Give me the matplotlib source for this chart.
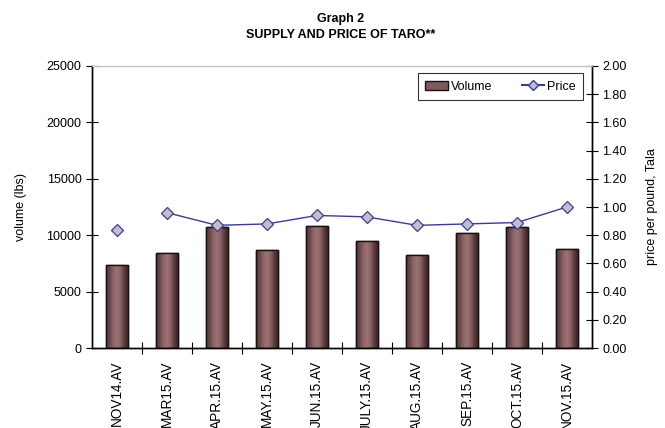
import numpy as np
import matplotlib
matplotlib.use("Agg")
import matplotlib.pyplot as plt
from matplotlib.colors import LinearSegmentedColormap
from matplotlib.ticker import FormatStrFormatter, FixedLocator
from matplotlib.lines import Line2D
from matplotlib.patches import Patch

plt.rcParams['font.family'] = ['Liberation Sans', 'DejaVu Sans']

months = ["NOV14.AV", "MAR15.AV", "APR.15.AV", "MAY.15.AV", "JUN.15.AV",
          "JULY.15.AV", "AUG.15.AV", "SEP.15.AV", "OCT.15.AV", "NOV.15.AV"]
volume = [7350, 8460, 10690, 8680, 10780, 9480, 8230, 10190, 10690, 8770]
price = [0.84, 0.96, 0.87, 0.88, 0.94, 0.93, 0.87, 0.88, 0.89, 1.00]

x = np.arange(len(months))

fig = plt.figure(figsize=(6.65, 4.28), dpi=100)
ax = fig.add_axes([0.1383, 0.1869, 0.7519, 0.6589])
ax2 = ax.twinx()

# bars with a shaded cylinder look
bar_cmap = LinearSegmentedColormap.from_list(
    "bar", ["#4e3234", "#6a4a4c", "#8c6466", "#9c7274", "#8a6264", "#5a3c3e", "#3e2628"])
grad = np.linspace(0, 1, 64).reshape(1, -1)
bars = ax.bar(x, volume, width=0.43, color="#7f5a5c", edgecolor="#1e1010",
              linewidth=1.0, zorder=2, label="Volume")
for b in bars:
    im = ax.imshow(grad, cmap=bar_cmap, aspect="auto", zorder=2.5,
                   extent=[b.get_x(), b.get_x() + b.get_width(), 0, b.get_height()])
    im.set_clip_path(b)
    ax.add_patch(plt.Rectangle((b.get_x(), 0), b.get_width(), b.get_height(),
                               fill=False, edgecolor="#1e1010", linewidth=1.0, zorder=3))

ax.set_xlim(-0.5, len(months) - 0.5)
ax.set_ylim(0, 25000)
ax.set_yticks(np.arange(0, 25001, 5000))
ax.set_xticks(x)
ax.set_xticklabels(months, rotation=90, fontsize=9.8, va="top")
ax.xaxis.set_minor_locator(FixedLocator(np.arange(0.5, len(months) - 0.5, 1)))
ax.tick_params(axis="x", which="major", length=0, pad=9)
ax.tick_params(axis="x", which="minor", direction="inout", length=8, width=0.8)
ax.tick_params(axis="y", direction="inout", length=8, width=0.8, labelsize=9)
ax.set_ylabel("volume (lbs)", fontsize=9, labelpad=14)

# price: first month stands apart, the rest are joined
ax2.plot(x[1:], price[1:], color="#3a3aa0", linewidth=1.0, zorder=4)
ax2.plot(x, price, linestyle="none", marker="D", markersize=6.5,
         markerfacecolor="#c0c0c8", markeredgecolor="#3a3aa0", markeredgewidth=0.9, zorder=5)
ax2.set_ylim(0, 2.0)
ax2.set_yticks(np.arange(0, 2.001, 0.2))
ax2.yaxis.set_major_formatter(FormatStrFormatter("%.2f"))
ax2.tick_params(axis="y", direction="inout", length=8, width=0.8, labelsize=9)
ax2.set_ylabel("price per pound, Tala", fontsize=9, labelpad=14)

for a in (ax, ax2):
    a.spines["top"].set_color("#c0c0c0")
    a.spines["left"].set_linewidth(1.0)
    a.spines["right"].set_linewidth(1.0)
    a.spines["bottom"].set_linewidth(1.0)

# legend combining both series
handles = [Patch(facecolor="#7f5a5c", edgecolor="#1e1010", label="Volume"),
           Line2D([0], [0], color="#3a3aa0", marker="D", markersize=5,
                  markerfacecolor="#c0c0c8", markeredgecolor="#3a3aa0", label="Price")]
leg = ax2.legend(handles=handles, loc="upper right", bbox_to_anchor=(0.982, 0.975),
                 borderaxespad=0, ncol=2, fontsize=9, frameon=True, fancybox=False,
                 edgecolor="#000000", handlelength=1.8, handletextpad=0.2,
                 columnspacing=2.4, borderpad=0.6)
leg.get_frame().set_linewidth(0.8)

fig.text(0.512, 0.955, "Graph 2", ha="center", va="center", fontsize=9, fontweight="bold")
fig.text(0.512, 0.918, "SUPPLY AND PRICE OF TARO**", ha="center", va="center",
         fontsize=9, fontweight="bold")

fig.savefig("out.png", dpi=100)
